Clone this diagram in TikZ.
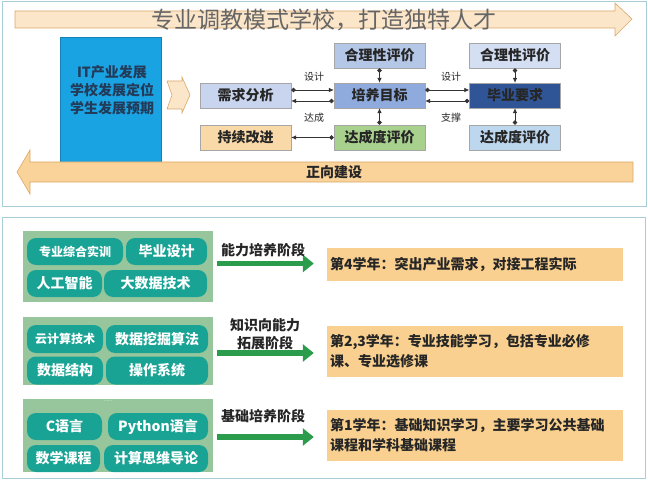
\documentclass[tikz,border=0pt]{standalone}
\usepackage{fontspec}
\setmainfont{Noto Sans CJK SC}
\usetikzlibrary{arrows.meta,positioning}

\definecolor{itblue}{HTML}{1AA3E3}
\definecolor{ittext}{HTML}{233B58}
\definecolor{needfill}{HTML}{C9D5EE}
\definecolor{impfill}{HTML}{FAD9A8}
\definecolor{ratefill}{HTML}{B4C7E7}
\definecolor{goalfill}{HTML}{8FAADC}
\definecolor{reachfill}{HTML}{A9D18E}
\definecolor{ratefillb}{HTML}{D5DFF3}
\definecolor{gradfill}{HTML}{2F5597}
\definecolor{reachfillb}{HTML}{BDD7EE}
\definecolor{bandlight}{HTML}{FCE6C9}
\definecolor{banddark}{HTML}{FAD39A}
\definecolor{bandline}{HTML}{D9A868}
\definecolor{framecol}{HTML}{A9CDD6}
\definecolor{grpgreen}{HTML}{98C69C}
\definecolor{pillteal}{HTML}{19A394}
\definecolor{stagegreen}{HTML}{2B9B4C}
\definecolor{yearfill}{HTML}{F9D08F}

\begin{document}
\begin{tikzpicture}[x=1pt,y=-1pt,
  box/.style={draw=gray!70, minimum width=91pt, minimum height=25pt,
              inner sep=0pt, text=black!85, font=\bfseries\fontsize{14}{16}\selectfont},
  link/.style={draw=black!80, line width=0.7pt,
               {Circle[length=4.5pt]}-{Latex[length=5pt,width=4.5pt]}},
  lbl/.style={font=\fontsize{10}{12}\selectfont, text=black!85},
  frame/.style={draw=framecol, line width=0.8pt},
  band/.style={draw=bandline, line width=0.6pt},
  grp/.style={fill=grpgreen, inner sep=0pt, minimum width=190pt},
  pill/.style={fill=pillteal, rounded corners=9pt, text=white, inner sep=0pt,
               font=\bfseries\fontsize{14}{16}\selectfont},
  stage/.style={font=\bfseries\fontsize{14}{18}\selectfont, text=black!85, align=center},
  garrow/.style={draw=stagegreen, line width=5.5pt,
                 -{Triangle[length=11pt,width=17pt]}},
  year/.style={fill=yearfill, minimum width=296pt, inner sep=3pt, text width=290pt,
               align=left, text=black!85, font=\bfseries\fontsize{14}{20}\selectfont}]
  \useasboundingbox (0,0) rectangle (648,500);

  % top panel
  \draw[frame] (2,1) rectangle (646,206);
  \draw[band, fill=bandlight] (15,11) -- (615,11) -- (615,3) -- (632,19)
    -- (615,36) -- (615,28) -- (15,28) -- cycle;
  \node[text=black!60, font=\fontsize{23}{25}\selectfont] (title) at (324,20)
    {专业调教模式学校，打造独特人才};

  \node[fill=itblue, draw=itblue!80!black, minimum width=101pt, minimum height=143pt]
    (itbox) at (110.5,108.5) {};
  \node[align=center, text=ittext, font=\bfseries\fontsize{14}{18}\selectfont]
    (ittxt) at (112,90) {IT产业发展\\学校发展定位\\学生发展预期};
  \draw[band, fill=bandlight] (167,81) -- (182,81) -- (182,77) -- (190,95)
    -- (182,113) -- (182,109) -- (167,109) -- (172,95) -- cycle;

  \node[box, fill=needfill]   (need)  at (245.5,95.5)  {需求分析};
  \node[box, fill=impfill]    (imp)   at (245.5,137.5) {持续改进};
  \node[box, fill=ratefill]   (rate)  at (379.5,55.5)  {合理性评价};
  \node[box, fill=goalfill]   (goal)  at (379.5,95.5)  {培养目标};
  \node[box, fill=reachfill]  (reach) at (379.5,137.5) {达成度评价};
  \node[box, fill=ratefillb]  (rateb) at (515,55.5)    {合理性评价};
  \node[box, fill=gradfill]   (grad)  at (515,95.5)    {毕业要求};
  \node[box, fill=reachfillb] (reachb) at (515,137.5)  {达成度评价};

  \draw[link] ([yshift=5.5pt]need.east) -- ([yshift=5.5pt]goal.west);
  \draw[link] ([yshift=-5.5pt]goal.west) -- ([yshift=-5.5pt]need.east);
  \draw[link] (reach.west) -- (imp.east);
  \draw[link] (rate.south) -- (goal.north);
  \draw[link] (reach.north) -- (goal.south);
  \draw[link] ([yshift=5.5pt]goal.east) -- ([yshift=5.5pt]grad.west);
  \draw[link] ([yshift=-5.5pt]grad.west) -- ([yshift=-5.5pt]goal.east);
  \draw[link] (rateb.south) -- (grad.north);
  \draw[link] (reachb.north) -- (grad.south);
  \node[lbl] (l1) at (314,77)  {设计};
  \node[lbl] (l2) at (314,118) {达成};
  \node[lbl] (l3) at (451,77)  {设计};
  \node[lbl] (l4) at (451,118) {支撑};

  \draw[band, fill=banddark] (633,162) -- (30,162) -- (30,150) -- (17,172)
    -- (30,194) -- (30,182) -- (633,182) -- cycle;
  \node[text=black!85, font=\bfseries\fontsize{14}{16}\selectfont] (build) at (334,172) {正向建设};

  % bottom panel
  \draw[frame] (2,217) rectangle (645,478);

  \node[grp, minimum height=71pt] (g1) at (118,266.5) {};
  \node[pill, minimum width=96pt, minimum height=27pt, font=\bfseries\fontsize{12}{14}\selectfont]
    (p11) at (75,251.5) {专业综合实训};
  \node[pill, minimum width=81pt, minimum height=27pt]  (p12) at (166.5,251.5) {毕业设计};
  \node[pill, minimum width=75pt, minimum height=27pt]  (p13) at (64.5,283.5) {人工智能};
  \node[pill, minimum width=103pt, minimum height=27pt] (p14) at (155.5,283.5) {大数据技术};

  \node[grp, minimum height=68pt] (g2) at (118,351) {};
  \node[text=white, font=\tiny] (dots2) at (109,316) {......};
  \node[pill, minimum width=76pt, minimum height=28pt, font=\bfseries\fontsize{12}{14}\selectfont]
    (p21) at (65,339) {云计算技术};
  \node[pill, minimum width=102pt, minimum height=28pt] (p22) at (157,339) {数据挖掘算法};
  \node[pill, minimum width=76pt, minimum height=28pt]  (p23) at (65,370.5) {数据结构};
  \node[pill, minimum width=102pt, minimum height=28pt] (p24) at (157,370.5) {操作系统};

  \node[grp, minimum height=73pt] (g3) at (118,435.5) {};
  \node[text=white, font=\tiny] (dots3) at (108,401) {......};
  \node[pill, minimum width=75pt, minimum height=27pt]  (p31) at (64.5,426.5) {C语言};
  \node[pill, minimum width=100pt, minimum height=27pt] (p32) at (158,426.5) {Python语言};
  \node[pill, minimum width=73pt, minimum height=27pt]  (p33) at (63.5,458.5) {数学课程};
  \node[pill, minimum width=104pt, minimum height=27pt] (p34) at (156,458.5) {计算思维导论};

  \node[year, minimum height=33pt] (y4) at (475,264.5)
    {第4学年：突出产业需求，对接工程实际};
  \node[year, minimum height=51pt] (y23) at (475,351.5)
    {第2,3学年：专业技能学习，包括专业必修\\课、专业选修课};
  \node[year, minimum height=51pt] (y1) at (475,435.5)
    {第1学年：基础知识学习，主要学习公共基础\\课程和学科基础课程};

  \draw[garrow] ([xshift=4pt,yshift=3pt]g1.east) -- ([xshift=-13pt,yshift=3pt]g1.east -| y4.west);
  \draw[garrow] ([xshift=4pt,yshift=-2pt]g2.east) -- ([xshift=-13pt,yshift=-2pt]g2.east -| y23.west);
  \draw[garrow] ([xshift=4pt,yshift=-1.5pt]g3.east) -- ([xshift=-13pt,yshift=-1.5pt]g3.east -| y1.west);
  \node[stage] (s4) at (263,250) {能力培养阶段};
  \node[stage] (s23) at (265,334) {知识向能力\\拓展阶段};
  \node[stage] (s1) at (263,416) {基础培养阶段};
\end{tikzpicture}
\end{document}
